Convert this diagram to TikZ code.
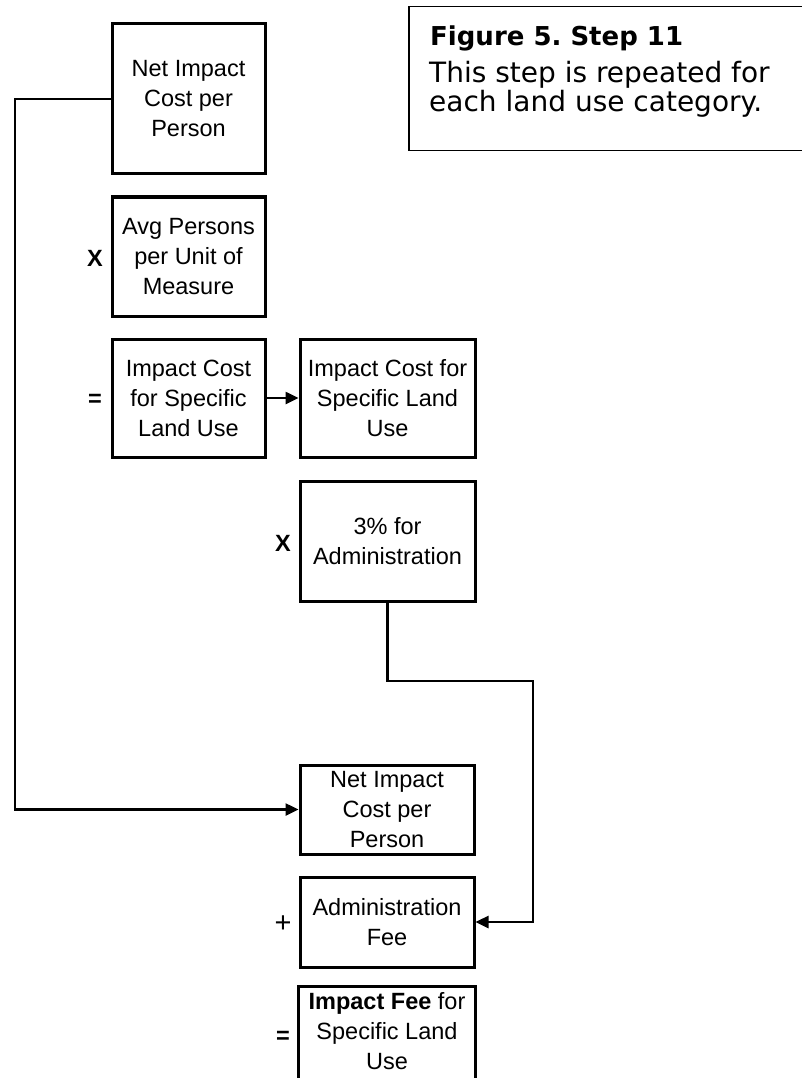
\documentclass[tikz,border=0pt]{standalone}
\usepackage{fontspec}
\setmainfont{Liberation Sans}
\newfontfamily\notefont{DejaVu Sans}
\usetikzlibrary{arrows.meta}

\begin{document}
\begin{tikzpicture}[x=1pt,y=-1pt,
    calc_box/.style={rectangle,draw,line width=3pt,align=center,inner sep=2pt,font=\fontsize{23.5}{30}\selectfont},
    op_sign/.style={font=\bfseries\fontsize{23.5}{30}\selectfont},
    note_text/.style={anchor=base west,inner sep=0pt,font=\notefont\fontsize{28}{29}\selectfont},
    flow/.style={line width=2.5pt,-{Triangle[length=13pt,width=12pt]}}]

    \useasboundingbox (0,0) rectangle (801,1078);

    \node[calc_box,minimum width=153,minimum height=150] (1) at (188.5,99) {Net Impact\\Cost per\\Person};
    \node[calc_box,minimum width=153,minimum height=119] (2) at (188.5,256.5) {Avg Persons\\per Unit of\\Measure};
    \node[calc_box,minimum width=153,minimum height=118] (3) at (188.5,398) {Impact Cost\\for Specific\\Land Use};
    \node[calc_box,minimum width=175,minimum height=118] (4) at (387.5,398) {Impact Cost for\\Specific Land\\Use};
    \node[calc_box,minimum width=175,minimum height=120] (5) at (387.5,541) {3\% for\\Administration};
    \node[calc_box,minimum width=174,minimum height=89] (6) at (387,809.5) {Net Impact\\Cost per\\Person};
    \node[calc_box,minimum width=174,minimum height=90] (7) at (387,922) {Administration\\Fee};
    \node[calc_box,draw=none,minimum width=174,minimum height=86] (8) at (387,1031) {\textbf{Impact Fee} for\\Specific Land\\Use};

    \node[op_sign] (15) at (95,258) {X};
    \node[op_sign] (16) at (95,400) {=};
    \node[op_sign] (17) at (283,543) {X};
    \node[op_sign,font=\fontsize{29}{30}\selectfont] (18) at (283,924) {+};
    \node[op_sign] (19) at (283,1037) {=};

    \node[draw,line width=1.5pt,anchor=north west,minimum width=420,minimum height=144] (11) at (408,6) {};
    \node[note_text,font=\notefont\bfseries\fontsize{26}{29}\selectfont] (12) at (430,46) {Figure 5.\ Step 11};
    \node[note_text] (13) at (429,83) {This step is repeated for};
    \node[note_text] (14) at (429,112) {each land use category.};

    \coordinate (9) at (15,809.5);
    \coordinate (10) at (533,681);

    \draw[line width=3pt] ([yshift=-30pt]8.south west) |- (8.north east) -- ([yshift=-30pt]8.south east);

    \draw[flow] (1.west) -| (9) -- (6.west);
    \draw[flow] (3) -- (4);
    \draw[flow] (5.south) |- (10) |- (7.east);

\end{tikzpicture}
\end{document}
